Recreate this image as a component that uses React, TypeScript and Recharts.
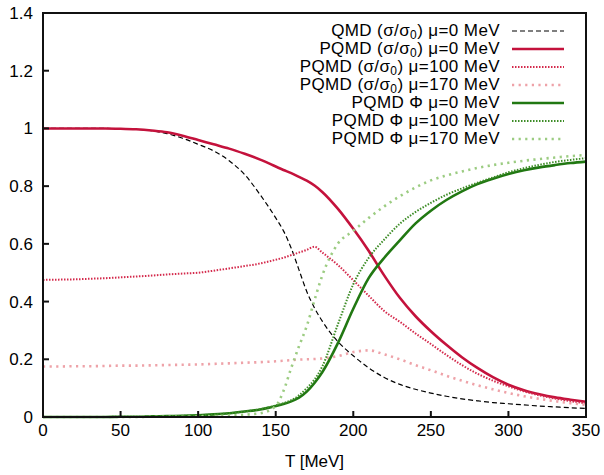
import { LineChart, Line, XAxis, YAxis } from 'recharts';

// temperature grid (MeV)
const temps = [0, 10, 20, 30, 40, 50, 60, 70, 80, 90, 100, 110, 120, 130, 140, 150, 155, 160, 165, 170, 175, 180, 190, 200, 210, 220, 230, 240, 250, 260, 270, 280, 290, 300, 310, 320, 330, 340, 350];

// chiral condensate sigma/sigma0
const qmd0 = [1, 1, 1, 1, 1, 0.999, 0.997, 0.992, 0.982, 0.966, 0.945, 0.922, 0.888, 0.84, 0.77, 0.69, 0.645, 0.585, 0.51, 0.435, 0.378, 0.332, 0.262, 0.212, 0.17, 0.137, 0.113, 0.096, 0.083, 0.072, 0.063, 0.056, 0.05, 0.046, 0.042, 0.038, 0.035, 0.032, 0.03];
const pqmdSigma0 = [1, 1, 1, 1, 1, 0.999, 0.997, 0.993, 0.987, 0.975, 0.96, 0.945, 0.93, 0.912, 0.892, 0.868, 0.856, 0.845, 0.832, 0.819, 0.802, 0.78, 0.722, 0.652, 0.575, 0.49, 0.413, 0.35, 0.297, 0.25, 0.207, 0.17, 0.138, 0.112, 0.093, 0.079, 0.068, 0.06, 0.053];
const pqmdSigma100 = [0.475, 0.476, 0.477, 0.479, 0.481, 0.484, 0.487, 0.49, 0.494, 0.497, 0.5, 0.507, 0.515, 0.523, 0.532, 0.545, 0.552, 0.561, 0.57, 0.579, 0.59, 0.57, 0.527, 0.474, 0.42, 0.367, 0.33, 0.29, 0.253, 0.215, 0.18, 0.15, 0.126, 0.106, 0.089, 0.075, 0.064, 0.055, 0.047];
const pqmdSigma170 = [0.175, 0.175, 0.176, 0.176, 0.177, 0.178, 0.178, 0.179, 0.18, 0.181, 0.182, 0.184, 0.186, 0.188, 0.19, 0.193, 0.195, 0.197, 0.199, 0.2, 0.201, 0.203, 0.211, 0.225, 0.231, 0.217, 0.2, 0.18, 0.162, 0.143, 0.126, 0.11, 0.096, 0.083, 0.072, 0.063, 0.055, 0.048, 0.042];

// Polyakov loop Phi
const phi0 = [0, 0, 0, 0, 0, 0.001, 0.001, 0.002, 0.003, 0.004, 0.006, 0.009, 0.013, 0.019, 0.026, 0.038, 0.045, 0.054, 0.067, 0.088, 0.118, 0.155, 0.255, 0.375, 0.482, 0.552, 0.612, 0.67, 0.715, 0.752, 0.782, 0.807, 0.826, 0.842, 0.855, 0.865, 0.873, 0.88, 0.885];
const phi100 = [0, 0, 0, 0, 0, 0.001, 0.001, 0.002, 0.003, 0.004, 0.006, 0.009, 0.013, 0.019, 0.027, 0.04, 0.048, 0.058, 0.075, 0.1, 0.13, 0.175, 0.32, 0.46, 0.552, 0.615, 0.67, 0.71, 0.742, 0.77, 0.792, 0.812, 0.83, 0.848, 0.862, 0.874, 0.884, 0.891, 0.897];
const phi170 = [0, 0, 0, 0, 0, 0, 0, 0.001, 0.001, 0.001, 0.002, 0.003, 0.005, 0.008, 0.013, 0.038, 0.09, 0.17, 0.245, 0.315, 0.405, 0.49, 0.6, 0.645, 0.69, 0.73, 0.765, 0.795, 0.82, 0.837, 0.851, 0.863, 0.873, 0.881, 0.888, 0.894, 0.899, 0.904, 0.908];

const xTicks = [0, 50, 100, 150, 200, 250, 300, 350];
const yTicks = [0, 0.2, 0.4, 0.6, 0.8, 1, 1.2, 1.4];

const FONT = '"Liberation Sans", Arial, sans-serif';

const W = 604;
const H = 475;
const MARGIN = { top: 13, right: 18, bottom: 0, left: 0 };
const Y_AXIS_W = 43;
const X_AXIS_H = 58;

interface Series {
  key: string;
  prefix: string;
  sub?: boolean;
  suffix: string;
  color: string;
  width: number;
  dash?: string;
}

const series: Series[] = [
  { key: 'qmd0', prefix: 'QMD (σ/σ', sub: true, suffix: ') μ=0 MeV', color: '#000000', width: 1.2, dash: '5 3' },
  { key: 'pqmdSigma0', prefix: 'PQMD (σ/σ', sub: true, suffix: ') μ=0 MeV', color: '#c4123c', width: 2.6 },
  { key: 'pqmdSigma100', prefix: 'PQMD (σ/σ', sub: true, suffix: ') μ=100 MeV', color: '#d42a4c', width: 2, dash: '1.5 1.5' },
  { key: 'pqmdSigma170', prefix: 'PQMD (σ/σ', sub: true, suffix: ') μ=170 MeV', color: '#eea2a8', width: 2.6, dash: '2.2 4.4' },
  { key: 'phi0', prefix: 'PQMD Φ μ=0 MeV', suffix: '', color: '#217812', width: 2.6 },
  { key: 'phi100', prefix: 'PQMD Φ μ=100 MeV', suffix: '', color: '#3d8c26', width: 2, dash: '1.5 1.5' },
  { key: 'phi170', prefix: 'PQMD Φ μ=170 MeV', suffix: '', color: '#9ccc82', width: 2.6, dash: '2.2 4.4' },
];

const columns: Record<string, number[]> = { qmd0, pqmdSigma0, pqmdSigma100, pqmdSigma170, phi0, phi100, phi170 };

const data = temps.map((T, i) => {
  const row: Record<string, number> = { T };
  for (const s of series) row[s.key] = columns[s.key][i];
  return row;
});

// legend + plot frame drawn on top of the chart
function Overlay() {
  const px = MARGIN.left + Y_AXIS_W;
  const py = MARGIN.top;
  const pw = W - px - MARGIN.right;
  const ph = H - py - MARGIN.bottom - X_AXIS_H;
  return (
    <svg width={W} height={H} style={{ position: 'absolute', left: 0, top: 0, pointerEvents: 'none' }}>
      <path
        d={`M${px},${py}H${px + pw}V${py + ph}H${px}Z`}
        fill="none"
        stroke="#111111"
        strokeWidth={2.5}
        shapeRendering="crispEdges"
      />
      {series.map((s, i) => {
        const y = 31 + i * 18;
        return (
          <g key={s.key}>
            <text x={500} y={y + 5} textAnchor="end" fontFamily={FONT} fontSize={17} letterSpacing={0.4} fill="#000">
              {s.sub ? (
                <>
                  <tspan>{s.prefix}</tspan>
                  <tspan dy={3} fontSize={12}>0</tspan>
                  <tspan dy={-3}>{s.suffix}</tspan>
                </>
              ) : (
                s.prefix
              )}
            </text>
            <line x1={512} x2={564} y1={y} y2={y} stroke={s.color} strokeWidth={s.width} strokeDasharray={s.dash} />
          </g>
        );
      })}
    </svg>
  );
}

export default function App() {
  return (
    <div style={{ position: 'absolute', left: 0, top: 0, width: W, height: H, background: '#fff' }}>
      <LineChart width={W} height={H} data={data} margin={MARGIN}>
        <XAxis
          dataKey="T"
          type="number"
          domain={[0, 350]}
          ticks={xTicks}
          height={X_AXIS_H}
          tickSize={-6}
          tickMargin={13}
          stroke="#111111"
          strokeWidth={2}
          tick={{ fill: '#000', fontSize: 17, fontFamily: FONT }}
          label={{ value: 'T [MeV]', position: 'insideBottom', offset: 8, fill: '#000', fontSize: 17, fontFamily: FONT }}
        />
        <YAxis
          type="number"
          domain={[0, 1.4]}
          ticks={yTicks}
          width={Y_AXIS_W}
          tickSize={-6}
          tickMargin={16}
          stroke="#111111"
          strokeWidth={2}
          tick={{ fill: '#000', fontSize: 17, fontFamily: FONT }}
          tickFormatter={(v: number) => String(Number(v.toFixed(1)))}
        />
        {series.map((s) => (
          <Line
            key={s.key}
            dataKey={s.key}
            type="monotone"
            stroke={s.color}
            strokeWidth={s.width}
            strokeDasharray={s.dash}
            dot={false}
            activeDot={false}
            isAnimationActive={false}
          />
        ))}
      </LineChart>
      <Overlay />
    </div>
  );
}
